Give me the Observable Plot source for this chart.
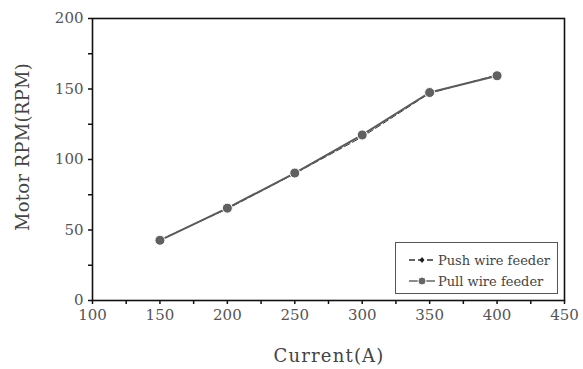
<!DOCTYPE html>
<html><head><meta charset="utf-8">
<script src="https://cdn.jsdelivr.net/npm/d3@7"></script>
<script src="https://cdn.jsdelivr.net/npm/@observablehq/plot@0.6"></script>
<style>
html,body{margin:0;padding:0;background:#fff;}
#wrap{position:relative;width:583px;height:369px;font-family:"DejaVu Serif",serif;}
#legend{position:absolute;left:395px;top:242px;width:161px;height:50px;border:1px solid #555;background:#fff;font-size:13px;color:#444;}
.row{position:absolute;left:12px;height:16px;display:flex;align-items:center;}
.row svg{margin-right:2px;}
</style></head>
<body><div id="wrap"><div id="chart"></div>
<div id="legend">
 <div class="row" style="top:9px"><svg width="28" height="10"><line x1="1" x2="27" y1="5" y2="5" stroke="#333" stroke-width="1.3" stroke-dasharray="6,3"/><path d="M14,2 L16.5,5 L14,8 L11.5,5Z" fill="#222"/></svg><span>Push wire feeder</span></div>
 <div class="row" style="top:30px"><svg width="28" height="10"><line x1="1" x2="27" y1="5" y2="5" stroke="#666" stroke-width="1.5"/><circle cx="14" cy="5" r="4" fill="#666" stroke="#fff" stroke-width="1"/></svg><span>Pull wire feeder</span></div>
</div></div>
<script>
const current = [150, 200, 250, 300, 350, 400];
const pushRPM = [43, 65, 90, 116, 147, 160];
const pullRPM = [42.7, 65.5, 90.4, 117.4, 147.5, 159.4];
const xTicks = [100, 150, 200, 250, 300, 350, 400, 450];
const yTicks = [0, 50, 100, 150, 200];

const push = current.map((c, i) => ({x: c, y: pushRPM[i]}));
const pull = current.map((c, i) => ({x: c, y: pullRPM[i]}));
const xMinor = d3.range(100, 451, 25);
const yMinor = d3.range(0, 201, 25);

const chart = Plot.plot({
  width: 583, height: 369,
  marginLeft: 92, marginRight: 19, marginTop: 18, marginBottom: 69,
  style: {fontFamily: "DejaVu Serif, serif", fontSize: "15px", color: "#555", background: "#fff"},
  x: {domain: [100, 450]},
  y: {domain: [0, 200]},
  marks: [
    Plot.axisX(xMinor, {tickSize: 4, text: null, label: null, stroke: "#111", strokeWidth: 1.5}),
    Plot.axisY(yMinor, {tickSize: 4, text: null, label: null, stroke: "#111", strokeWidth: 1.5}),
    Plot.axisX(xTicks, {tickSize: 0, tickPadding: 9, label: null, fill: "#555"}),
    Plot.axisY(yTicks, {tickSize: 0, tickPadding: 9, label: null, fill: "#555"}),
    Plot.frame({stroke: "#111", strokeWidth: 1.6}),
    Plot.line(push, {x: "x", y: "y", stroke: "#333", strokeWidth: 1, strokeDasharray: "6,3"}),
    Plot.line(pull, {x: "x", y: "y", stroke: "#5a5a5a", strokeWidth: 2}),
    Plot.dot(push, {x: "x", y: "y", r: 2, symbol: "diamond", fill: "#222"}),
    Plot.dot(pull, {x: "x", y: "y", r: 5, fill: "#606060", stroke: "#fff", strokeWidth: 1})
  ]
});
const svg = d3.select(chart);
svg.append("text").attr("x", 329).attr("y", 357).attr("text-anchor", "middle").attr("dominant-baseline", "middle")
  .attr("font-size", 18).attr("letter-spacing", "1.2px").attr("fill", "#444").text("Current(A)");
svg.append("text").attr("transform", "translate(24,147) rotate(-90)").attr("text-anchor", "middle").attr("dominant-baseline", "middle")
  .attr("font-size", 18).attr("letter-spacing", "0.3px").attr("fill", "#444").text("Motor RPM(RPM)");
document.getElementById("chart").appendChild(chart);
</script></body></html>
